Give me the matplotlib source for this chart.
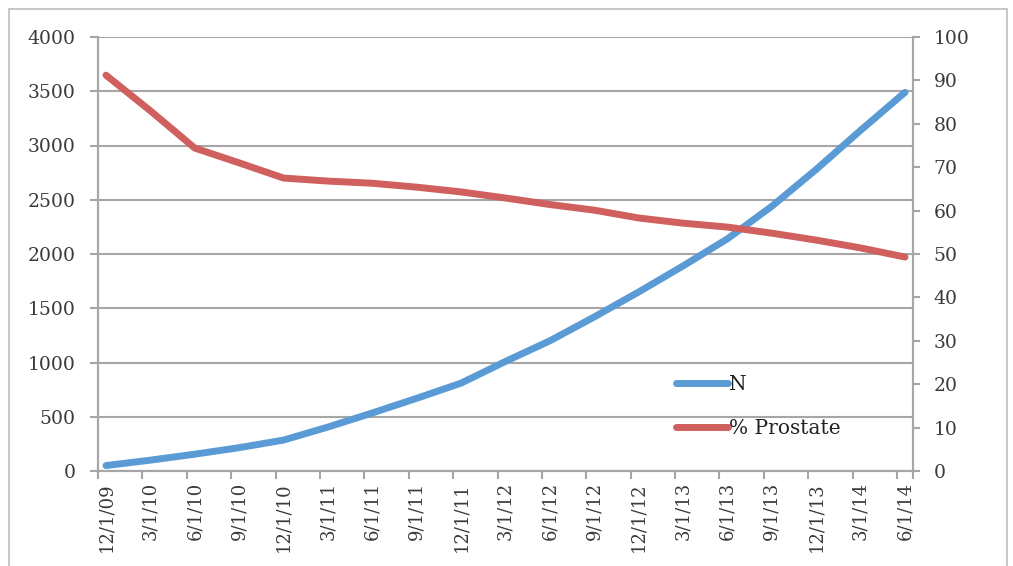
import matplotlib
matplotlib.use("Agg")
import matplotlib.pyplot as plt
from matplotlib.patches import Rectangle
from matplotlib.lines import Line2D

dates = ["12/1/09", "3/1/10", "6/1/10", "9/1/10", "12/1/10", "3/1/11", "6/1/11",
         "9/1/11", "12/1/11", "3/1/12", "6/1/12", "9/1/12", "12/1/12", "3/1/13",
         "6/1/13", "9/1/13", "12/1/13", "3/1/14", "6/1/14"]
n_values = [50, 100, 155, 215, 285, 405, 535, 670, 810, 1010, 1200, 1420,
            1650, 1890, 2140, 2440, 2780, 3140, 3490]
pct_prostate = [91.2, 83.0, 74.4, 71.0, 67.5, 66.8, 66.3, 65.4, 64.3, 62.9, 61.4,
                60.1, 58.3, 57.1, 56.2, 54.8, 53.2, 51.4, 49.3]

blue = "#5b9bd5"
red = "#d0605d"
grey = "#a6a6a6"
txt = "#3a3a3a"
font = "DejaVu Serif"

fig = plt.figure(figsize=(10.13, 5.66), dpi=100)
fig.patches.append(Rectangle((9 / 1013, -0.05), 998 / 1013, (566 - 9) / 566 + 0.05,
                             transform=fig.transFigure, fill=False,
                             edgecolor="#c8c8c8", linewidth=1.5))

ax = fig.add_axes([98 / 1013, 95 / 566, 815 / 1013, 434 / 566])
ax2 = ax.twinx()

x = list(range(len(dates)))
ax.plot(x, n_values, color=blue, linewidth=5, solid_capstyle="round", zorder=3)
ax2.plot(x, pct_prostate, color=red, linewidth=5, solid_capstyle="round", zorder=3)

ax.set_xlim(-0.16, 18.18)
ax.set_ylim(0, 4000)
ax2.set_ylim(0, 100)
ax.set_yticks(range(0, 4001, 500))
ax2.set_yticks(range(0, 101, 10))
ax.yaxis.grid(True, color=grey, linewidth=1.5)
ax.set_axisbelow(True)

ax.set_xticks(x)
ax.set_xticklabels(dates, rotation=90, fontsize=13, family=font, color=txt)
ax.tick_params(axis="x", which="major", length=0, pad=8)
ax.set_xticks([i - 0.18 for i in x] + [18.18], minor=True)
ax.tick_params(axis="x", which="minor", length=6, color=grey, width=1.5, direction="out")

ax.tick_params(axis="y", length=6, color=grey, width=1.5, pad=10)
ax2.tick_params(axis="y", length=5, color=grey, width=1.5, pad=10)
for lbl in ax.get_yticklabels() + ax2.get_yticklabels():
    lbl.set_fontsize(13.5)
    lbl.set_family(font)
    lbl.set_color(txt)

for a in (ax, ax2):
    a.spines["top"].set_visible(False)
    for s in ("left", "right", "bottom"):
        a.spines[s].set_color(grey)
        a.spines[s].set_linewidth(1.5)

handles = [Line2D([], [], color=blue, linewidth=5, solid_capstyle="round"),
           Line2D([], [], color=red, linewidth=5, solid_capstyle="round")]
leg = ax.legend(handles, ["N", "% Prostate"], loc="upper left",
                bbox_to_anchor=(560 / 815, (471 - 357) / 434), frameon=False,
                handlelength=2.6, handletextpad=0.05, labelspacing=1.25,
                prop={"family": font, "size": 14.5})
for t in leg.get_texts():
    t.set_color("#222222")

fig.savefig("out.png", dpi=100)
